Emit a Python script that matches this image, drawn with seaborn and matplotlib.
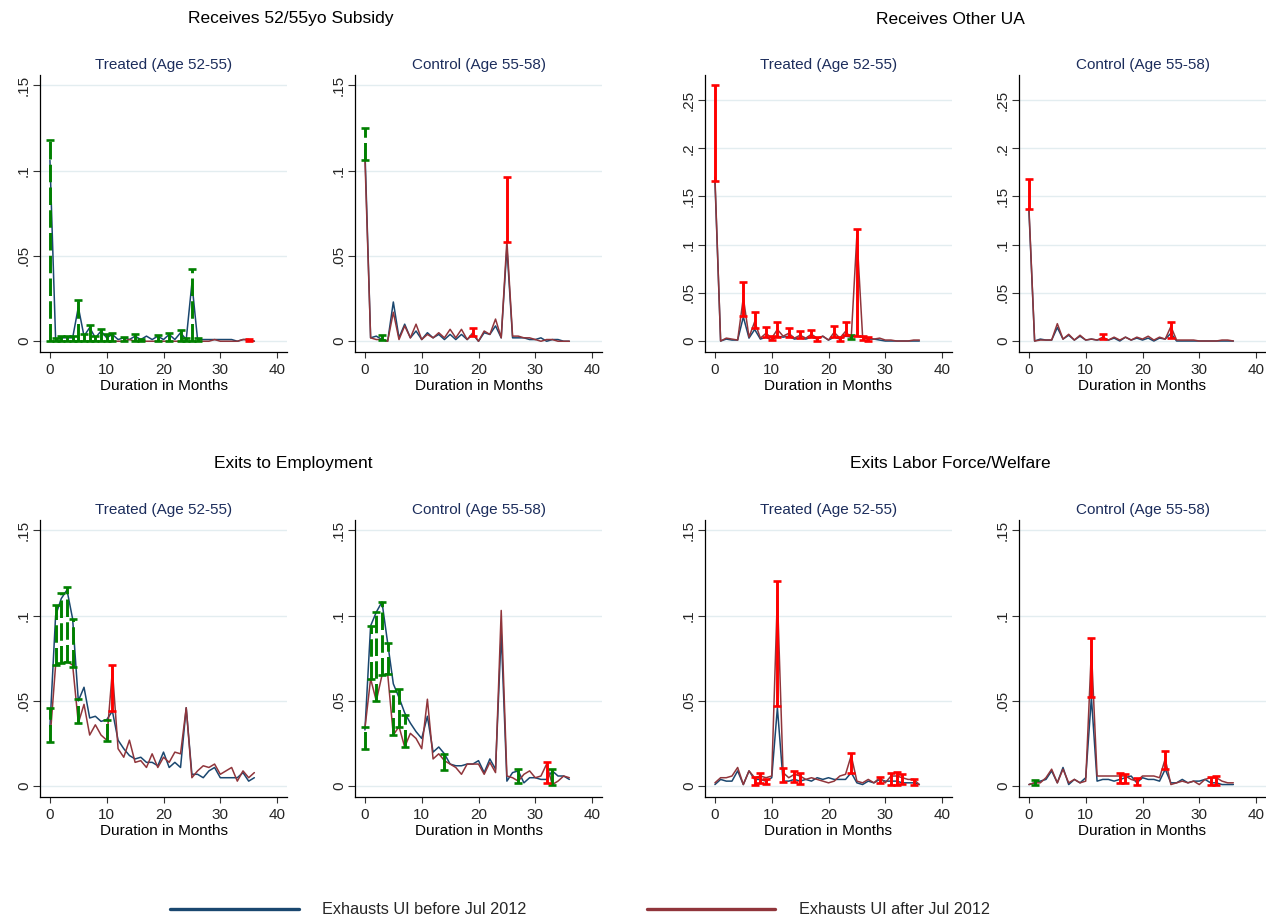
import numpy as np
import pandas as pd
import matplotlib
matplotlib.use("Agg")
import matplotlib.pyplot as plt
import seaborn as sns
from matplotlib.lines import Line2D

# ---------------------------------------------------------------------------
# Monthly hazard rates by elapsed unemployment duration (months 0..36)
# "before" = exhausts UI before Jul 2012, "after" = exhausts UI after Jul 2012
# ---------------------------------------------------------------------------
months = np.arange(37)

subsidy_treated_before = [0.106, 0.001, 0.002, 0.002, 0.002, 0.020, 0.003, 0.008, 0.002, 0.006,
                          0.002, 0.004, 0.001, 0.002, 0.001, 0.003, 0.001, 0.003, 0.001, 0.003,
                          0.001, 0.004, 0.001, 0.005, 0.001, 0.034, 0.001, 0.001, 0.001, 0.001,
                          0.001, 0.001, 0.001, 0.000, 0.001, 0.001, 0.000]
subsidy_treated_after = [0.000, 0.000, 0.000, 0.000, 0.000, 0.000, 0.000, 0.000, 0.000, 0.000,
                         0.000, 0.000, 0.000, 0.000, 0.001, 0.000, 0.000, 0.000, 0.000, 0.000,
                         0.000, 0.000, 0.000, 0.000, 0.000, 0.000, 0.000, 0.000, 0.000, 0.001,
                         0.000, 0.000, 0.000, 0.000, 0.001, 0.001, 0.000]
subsidy_control_before = [0.112, 0.002, 0.003, 0.001, 0.000, 0.023, 0.002, 0.010, 0.002, 0.006,
                          0.001, 0.005, 0.002, 0.004, 0.001, 0.004, 0.001, 0.004, 0.001, 0.004,
                          0.000, 0.005, 0.004, 0.009, 0.002, 0.055, 0.002, 0.002, 0.002, 0.001,
                          0.001, 0.002, 0.000, 0.001, 0.001, 0.000, 0.000]
subsidy_control_after = [0.107, 0.002, 0.001, 0.001, 0.000, 0.017, 0.001, 0.009, 0.002, 0.010,
                         0.001, 0.004, 0.002, 0.005, 0.002, 0.007, 0.002, 0.007, 0.001, 0.005,
                         0.000, 0.006, 0.004, 0.013, 0.002, 0.059, 0.003, 0.003, 0.002, 0.002,
                         0.001, 0.000, 0.001, 0.001, 0.000, 0.000, 0.000]

otherua_treated_before = [0.166, 0.000, 0.002, 0.001, 0.001, 0.025, 0.003, 0.012, 0.002, 0.004,
                          0.001, 0.005, 0.004, 0.005, 0.002, 0.003, 0.002, 0.004, 0.002, 0.005,
                          0.001, 0.004, 0.002, 0.005, 0.004, 0.005, 0.004, 0.002, 0.002, 0.001,
                          0.000, 0.000, 0.000, 0.000, 0.000, 0.000, 0.000]
otherua_treated_after = [0.170, 0.000, 0.003, 0.002, 0.001, 0.045, 0.004, 0.020, 0.003, 0.008,
                         0.003, 0.012, 0.005, 0.008, 0.003, 0.006, 0.003, 0.007, 0.003, 0.005,
                         0.001, 0.009, 0.003, 0.010, 0.003, 0.110, 0.005, 0.003, 0.002, 0.003,
                         0.001, 0.001, 0.000, 0.000, 0.000, 0.001, 0.001]
otherua_control_before = [0.135, 0.000, 0.002, 0.001, 0.001, 0.014, 0.002, 0.006, 0.001, 0.005,
                          0.001, 0.002, 0.001, 0.002, 0.001, 0.003, 0.000, 0.004, 0.001, 0.003,
                          0.001, 0.003, 0.000, 0.003, 0.002, 0.008, 0.000, 0.000, 0.000, 0.000,
                          0.000, 0.000, 0.000, 0.000, 0.000, 0.000, 0.000]
otherua_control_after = [0.138, 0.000, 0.001, 0.001, 0.001, 0.018, 0.002, 0.007, 0.001, 0.006,
                         0.001, 0.002, 0.001, 0.004, 0.001, 0.004, 0.001, 0.004, 0.001, 0.004,
                         0.002, 0.005, 0.001, 0.004, 0.002, 0.015, 0.001, 0.001, 0.001, 0.001,
                         0.000, 0.000, 0.000, 0.000, 0.001, 0.001, 0.000]

employ_treated_before = [0.035, 0.100, 0.110, 0.115, 0.098, 0.050, 0.058, 0.040, 0.041, 0.038,
                         0.039, 0.044, 0.027, 0.022, 0.018, 0.016, 0.017, 0.014, 0.014, 0.012,
                         0.020, 0.011, 0.014, 0.011, 0.046, 0.007, 0.007, 0.005, 0.009, 0.011,
                         0.005, 0.005, 0.005, 0.005, 0.008, 0.003, 0.005]
employ_treated_after = [0.027, 0.071, 0.072, 0.073, 0.071, 0.037, 0.048, 0.030, 0.036, 0.030,
                        0.027, 0.068, 0.022, 0.017, 0.027, 0.014, 0.015, 0.011, 0.019, 0.011,
                        0.017, 0.014, 0.020, 0.019, 0.046, 0.005, 0.009, 0.012, 0.011, 0.013,
                        0.007, 0.009, 0.011, 0.003, 0.009, 0.005, 0.008]
employ_control_before = [0.033, 0.094, 0.102, 0.108, 0.084, 0.060, 0.052, 0.043, 0.037, 0.032,
                         0.028, 0.041, 0.020, 0.023, 0.019, 0.013, 0.012, 0.012, 0.013, 0.013,
                         0.015, 0.008, 0.016, 0.010, 0.090, 0.003, 0.008, 0.009, 0.002, 0.005,
                         0.005, 0.004, 0.004, 0.009, 0.006, 0.006, 0.004]
employ_control_after = [0.034, 0.063, 0.050, 0.065, 0.066, 0.030, 0.035, 0.023, 0.031, 0.028,
                        0.022, 0.051, 0.016, 0.019, 0.015, 0.013, 0.011, 0.007, 0.013, 0.013,
                        0.013, 0.007, 0.014, 0.008, 0.103, 0.006, 0.005, 0.003, 0.007, 0.009,
                        0.005, 0.006, 0.013, 0.001, 0.003, 0.006, 0.005]

lfw_treated_before = [0.001, 0.004, 0.003, 0.003, 0.009, 0.001, 0.009, 0.004, 0.004, 0.003,
                      0.005, 0.046, 0.003, 0.003, 0.004, 0.003, 0.004, 0.003, 0.005, 0.004,
                      0.005, 0.004, 0.004, 0.004, 0.008, 0.002, 0.001, 0.003, 0.002, 0.004,
                      0.003, 0.003, 0.003, 0.002, 0.002, 0.002, 0.001]
lfw_treated_after = [0.002, 0.005, 0.005, 0.006, 0.011, 0.001, 0.009, 0.005, 0.006, 0.005,
                     0.006, 0.112, 0.008, 0.005, 0.007, 0.006, 0.004, 0.005, 0.004, 0.003,
                     0.002, 0.003, 0.006, 0.007, 0.018, 0.003, 0.002, 0.004, 0.002, 0.005,
                     0.002, 0.006, 0.006, 0.005, 0.004, 0.004, 0.001]
lfw_control_before = [0.001, 0.002, 0.003, 0.004, 0.009, 0.002, 0.011, 0.001, 0.004, 0.002,
                      0.005, 0.052, 0.003, 0.004, 0.004, 0.003, 0.004, 0.005, 0.006, 0.002,
                      0.005, 0.004, 0.004, 0.003, 0.010, 0.002, 0.002, 0.004, 0.002, 0.003,
                      0.003, 0.004, 0.002, 0.002, 0.001, 0.001, 0.001]
lfw_control_after = [0.001, 0.002, 0.002, 0.005, 0.010, 0.002, 0.010, 0.002, 0.004, 0.002,
                     0.003, 0.080, 0.006, 0.006, 0.006, 0.006, 0.006, 0.006, 0.004, 0.003,
                     0.006, 0.006, 0.006, 0.005, 0.016, 0.001, 0.002, 0.003, 0.002, 0.003,
                     0.001, 0.004, 0.005, 0.005, 0.003, 0.002, 0.002]

# ---------------------------------------------------------------------------
# Confidence intervals at months with a significant difference;
# "higher" names the cohort with the larger rate at that month.
# ---------------------------------------------------------------------------
subsidy_treated_ci_month = [0, 1, 2, 3, 4, 5, 6, 7, 8, 9, 10, 11, 13, 15, 16, 19, 21, 23, 24, 25, 26, 35]
subsidy_treated_ci_lo = [0.000] * 22
subsidy_treated_ci_hi = [0.118, 0.002, 0.003, 0.003, 0.003, 0.024, 0.0045, 0.0094, 0.003, 0.0072,
                         0.004, 0.005, 0.0025, 0.0045, 0.0014, 0.0035, 0.005, 0.0065, 0.002, 0.0426,
                         0.002, 0.0015]
subsidy_treated_ci_higher = ["before"] * 21 + ["after"]

subsidy_control_ci_month = [0, 3, 19, 25]
subsidy_control_ci_lo = [0.106, 0.0005, 0.003, 0.058]
subsidy_control_ci_hi = [0.125, 0.0035, 0.008, 0.096]
subsidy_control_ci_higher = ["before", "before", "after", "after"]

otherua_treated_ci_month = [0, 5, 7, 9, 10, 11, 13, 15, 17, 18, 21, 22, 23, 24, 25, 26, 27]
otherua_treated_ci_lo = [0.166, 0.026, 0.013, 0.0045, 0.001, 0.0045, 0.0045, 0.003, 0.0045, 0.0005,
                         0.004, 0.0005, 0.006, 0.0017, 0.005, 0.001, 0.0005]
otherua_treated_ci_hi = [0.266, 0.061, 0.030, 0.015, 0.005, 0.020, 0.013, 0.010, 0.011, 0.004,
                         0.016, 0.004, 0.020, 0.006, 0.116, 0.0055, 0.004]
otherua_treated_ci_higher = ["after"] * 13 + ["before"] + ["after"] * 3

otherua_control_ci_month = [0, 13, 25]
otherua_control_ci_lo = [0.137, 0.002, 0.003]
otherua_control_ci_hi = [0.168, 0.007, 0.020]
otherua_control_ci_higher = ["after", "after", "after"]

employ_treated_ci_month = [0, 1, 2, 3, 4, 5, 10, 11]
employ_treated_ci_lo = [0.026, 0.071, 0.072, 0.073, 0.070, 0.037, 0.0265, 0.044]
employ_treated_ci_hi = [0.046, 0.106, 0.113, 0.117, 0.098, 0.051, 0.039, 0.071]
employ_treated_ci_higher = ["before"] * 7 + ["after"]

employ_control_ci_month = [0, 1, 2, 3, 4, 5, 6, 7, 14, 27, 32, 33]
employ_control_ci_lo = [0.022, 0.063, 0.050, 0.065, 0.066, 0.030, 0.035, 0.023, 0.0094, 0.002, 0.002, 0.001]
employ_control_ci_hi = [0.035, 0.094, 0.102, 0.108, 0.084, 0.056, 0.057, 0.042, 0.019, 0.010, 0.014, 0.010]
employ_control_ci_higher = ["before"] * 10 + ["after", "before"]

lfw_treated_ci_month = [7, 8, 9, 11, 12, 14, 15, 24, 29, 31, 32, 33, 35]
lfw_treated_ci_lo = [0.0006, 0.002, 0.0016, 0.047, 0.0025, 0.0025, 0.0016, 0.0078, 0.002, 0.001,
                     0.001, 0.0016, 0.001]
lfw_treated_ci_hi = [0.0055, 0.008, 0.0045, 0.1205, 0.0107, 0.0088, 0.0078, 0.0197, 0.0055, 0.0078,
                     0.0084, 0.0074, 0.0045]
lfw_treated_ci_higher = ["after"] * 13

lfw_control_ci_month = [1, 11, 16, 17, 19, 24, 32, 33]
lfw_control_ci_lo = [0.0008, 0.052, 0.002, 0.002, 0.0006, 0.010, 0.0006, 0.0006]
lfw_control_ci_hi = [0.0035, 0.087, 0.008, 0.0074, 0.005, 0.0207, 0.0055, 0.006]
lfw_control_ci_higher = ["before"] + ["after"] * 7

group_titles = ["Receives 52/55yo Subsidy", "Receives Other UA",
                "Exits to Employment", "Exits Labor Force/Welfare"]
panel_titles = ["Treated (Age 52-55)", "Control (Age 55-58)"]
legend_labels = ["Exhausts UI before Jul 2012", "Exhausts UI after Jul 2012"]
x_label = "Duration in Months"

# ---------------------------------------------------------------------------
# Styling
# ---------------------------------------------------------------------------
sns.set_theme(style="white")
plt.rcParams["font.family"] = ["Liberation Sans", "DejaVu Sans"]

BLUE = "#1a476f"
MAROON = "#90353b"
CI_COLORS = {"before": "#008000", "after": "#ff0000"}
TITLE_NAVY = "#1c2d5c"
GRID = "#e3edf0"

W, H = 1266, 923
fig = plt.figure(figsize=(W / 100, H / 100), dpi=100)
fig.patch.set_facecolor("white")


def rect(x0, y_top, width=247, height=277):
    return [x0 / W, 1 - (y_top + height) / H, width / W, height / H]


def stata_fmt(v):
    if abs(v) < 1e-12:
        return "0"
    s = f"{v:.2f}".rstrip("0")
    return s.lstrip("0")


def draw_panel(ax, before, after, ci_m, ci_lo, ci_hi, ci_higher, ylim, yticks, title):
    df = pd.DataFrame({
        "month": np.concatenate([months, months]),
        "rate": np.concatenate([before, after]),
        "cohort": [legend_labels[0]] * len(months) + [legend_labels[1]] * len(months),
    })
    sns.lineplot(data=df, x="month", y="rate", hue="cohort",
                 palette=[BLUE, MAROON], hue_order=legend_labels,
                 errorbar=None, legend=False, linewidth=1.1, ax=ax)

    ci_m = np.asarray(ci_m, float)
    ci_lo = np.asarray(ci_lo, float)
    ci_hi = np.asarray(ci_hi, float)
    higher = np.asarray(ci_higher)
    for key in ("before", "after"):
        sel = higher == key
        if not sel.any():
            continue
        mid = (ci_lo[sel] + ci_hi[sel]) / 2
        half = (ci_hi[sel] - ci_lo[sel]) / 2
        eb = ax.errorbar(ci_m[sel], mid, yerr=half, fmt="none",
                         ecolor=CI_COLORS[key], elinewidth=2.1,
                         capsize=3.0, capthick=1.9, zorder=4)
        if key == "before":
            for coll in eb[2]:
                coll.set_linestyle((0, (6.0, 1.8)))

    ax.set_xlim(-1.75, 41.75)
    ax.set_ylim(*ylim)
    ax.set_xticks([0, 10, 20, 30, 40])
    ax.set_yticks(yticks)
    ax.set_yticklabels([stata_fmt(v) for v in yticks])
    ax.yaxis.grid(True, color=GRID, linewidth=1.0)
    ax.xaxis.grid(False)
    ax.set_axisbelow(True)
    for side in ("top", "right"):
        ax.spines[side].set_visible(False)
    for side in ("left", "bottom"):
        ax.spines[side].set_color("black")
        ax.spines[side].set_linewidth(0.9)
    ax.tick_params(axis="y", which="major", length=5, width=0.8, color="#333333",
                   pad=1.5, labelsize=11, labelrotation=90, left=True)
    for lab in ax.get_yticklabels():
        lab.set_va("center")
    ax.tick_params(axis="x", which="major", length=4, width=0.8, color="#333333",
                   pad=4.0, labelsize=11, bottom=True)
    ax.set_xlabel(x_label, fontsize=11, labelpad=1.5, color="black")
    ax.set_ylabel("")
    ax.set_title(title, fontsize=11, color=TITLE_NAVY, pad=4)
    ax.set_facecolor("white")


small_ylim = (-0.0063, 0.156)
small_ticks = [0, 0.05, 0.10, 0.15]
wide_ylim = (-0.0114, 0.276)
wide_ticks = [0, 0.05, 0.10, 0.15, 0.20, 0.25]

panels = [
    (rect(40, 75), subsidy_treated_before, subsidy_treated_after, subsidy_treated_ci_month,
     subsidy_treated_ci_lo, subsidy_treated_ci_hi, subsidy_treated_ci_higher, small_ylim, small_ticks, panel_titles[0]),
    (rect(355, 75), subsidy_control_before, subsidy_control_after, subsidy_control_ci_month,
     subsidy_control_ci_lo, subsidy_control_ci_hi, subsidy_control_ci_higher, small_ylim, small_ticks, panel_titles[1]),
    (rect(705, 75), otherua_treated_before, otherua_treated_after, otherua_treated_ci_month,
     otherua_treated_ci_lo, otherua_treated_ci_hi, otherua_treated_ci_higher, wide_ylim, wide_ticks, panel_titles[0]),
    (rect(1019, 75), otherua_control_before, otherua_control_after, otherua_control_ci_month,
     otherua_control_ci_lo, otherua_control_ci_hi, otherua_control_ci_higher, wide_ylim, wide_ticks, panel_titles[1]),
    (rect(40, 520), employ_treated_before, employ_treated_after, employ_treated_ci_month,
     employ_treated_ci_lo, employ_treated_ci_hi, employ_treated_ci_higher, small_ylim, small_ticks, panel_titles[0]),
    (rect(355, 520), employ_control_before, employ_control_after, employ_control_ci_month,
     employ_control_ci_lo, employ_control_ci_hi, employ_control_ci_higher, small_ylim, small_ticks, panel_titles[1]),
    (rect(705, 520), lfw_treated_before, lfw_treated_after, lfw_treated_ci_month,
     lfw_treated_ci_lo, lfw_treated_ci_hi, lfw_treated_ci_higher, small_ylim, small_ticks, panel_titles[0]),
    (rect(1019, 520), lfw_control_before, lfw_control_after, lfw_control_ci_month,
     lfw_control_ci_lo, lfw_control_ci_hi, lfw_control_ci_higher, small_ylim, small_ticks, panel_titles[1]),
]

for r, *args in panels:
    ax = fig.add_axes(r)
    draw_panel(ax, *args)

# Group headings above each pair of panels
for title, (cx, cy) in zip(group_titles, [(291, 19), (950, 19), (293, 464), (950, 464)]):
    fig.text(cx / W, 1 - cy / H, title, ha="center", va="center", fontsize=12.5, color="black")

# Shared legend
handles = [Line2D([], [], color=BLUE, lw=2.4), Line2D([], [], color=MAROON, lw=2.4)]
fig.legend(handles, legend_labels, loc="center", bbox_to_anchor=(580 / W, 1 - 910 / H),
           ncol=2, frameon=False, fontsize=11.7, handlelength=7.9, handletextpad=1.45,
           columnspacing=7.4)

fig.savefig("out.png", dpi=100, facecolor="white")
